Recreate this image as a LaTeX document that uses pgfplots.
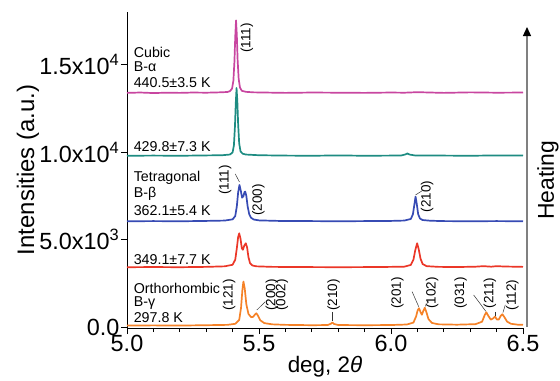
\documentclass[border=0pt]{standalone}
\usepackage{pgfplots}
\pgfplotsset{compat=1.18}
\usepackage{fontspec}
\setmainfont{Liberation Sans}
\usetikzlibrary{arrows.meta}
\definecolor{cmag}{RGB}{200,70,160}
\definecolor{cteal}{RGB}{30,140,130}
\definecolor{cblue}{RGB}{55,75,180}
\definecolor{cred}{RGB}{235,55,40}
\definecolor{corg}{RGB}{245,130,40}
\begin{document}
\begin{tikzpicture}
\begin{axis}[
  scale only axis, width=396bp, height=316bp,
  xmin=5, xmax=6.5, ymin=-60, ymax=18030,
  axis x line=bottom, axis y line=left, axis line style={-, line width=0.9bp},
  clip=false, scaled y ticks=false, scaled x ticks=false,
  tick align=outside, major tick length=6bp, minor tick length=4bp,
  tick style={black, line width=0.9bp},
  xtick={5,5.5,6,6.5}, xticklabels={5.0,5.5,6.0,6.5},
  minor x tick num=4,
  ytick={0,5000,10000,15000},
  yticklabels={0.0,5.0x10\textsuperscript{3},1.0x10\textsuperscript{4},1.5x10\textsuperscript{4}},
  ticklabel style={font=\fontsize{23.5}{25}\selectfont},
  xticklabel style={inner sep=1bp},
  yticklabel style={inner sep=1.5bp},
  xlabel={deg, 2\textit{θ}},
  ylabel={Intensities (a.u.)},
  xlabel style={font=\fontsize{22.5}{25}\selectfont, at={(axis description cs:0.5,-0.123)}, anchor=center},
  ylabel style={font=\fontsize{24}{26}\selectfont, at={(axis description cs:-0.25,0.5)}, anchor=center},
  every axis plot/.append style={line width=1.7bp, line join=round},
]
\coordinate (O) at (rel axis cs:0,0);
% magenta 440.5 K
\addplot[cmag] coordinates {(5.00,13400) (5.05,13420) (5.10,13390) (5.15,13410) (5.20,13400) (5.25,13420) (5.30,13410) (5.35,13430) (5.38,13450) (5.39,13500) (5.398,13650) (5.403,14100) (5.407,15200) (5.410,16600) (5.413,17550) (5.416,16700) (5.419,15300) (5.423,14200) (5.428,13700) (5.435,13520) (5.45,13460) (5.48,13430) (5.52,13420) (5.60,13400) (5.70,13420) (5.80,13410) (5.90,13400) (6.00,13420) (6.05,13410) (6.10,13440) (6.15,13420) (6.20,13400) (6.30,13430) (6.40,13410) (6.50,13420)};
% teal 429.8 K
\addplot[cteal] coordinates {(5.00,9800) (5.10,9810) (5.20,9800) (5.30,9820) (5.36,9830) (5.39,9870) (5.400,9990) (5.405,10400) (5.409,11500) (5.412,12800) (5.415,13680) (5.418,12900) (5.421,11600) (5.425,10500) (5.430,10050) (5.438,9920) (5.45,9870) (5.50,9830) (5.60,9810) (5.70,9800) (5.80,9820) (5.90,9800) (6.00,9810) (6.04,9820) (6.055,9880) (6.062,9930) (6.07,9870) (6.09,9820) (6.20,9810) (6.30,9800) (6.40,9820) (6.50,9810)};
% blue 362.1 K
\addplot[cblue] coordinates {(5.00,6050) (5.10,6060) (5.20,6050) (5.30,6070) (5.37,6090) (5.40,6160) (5.410,6350) (5.416,6900) (5.421,7700) (5.426,8130) (5.431,7800) (5.436,7400) (5.441,7480) (5.445,7720) (5.448,7750) (5.452,7500) (5.457,6900) (5.463,6450) (5.47,6250) (5.48,6150) (5.50,6100) (5.55,6080) (5.60,6060) (5.70,6060) (5.80,6050) (5.90,6060) (6.00,6070) (6.05,6090) (6.075,6180) (6.083,6450) (6.088,6950) (6.093,7460) (6.098,7000) (6.103,6450) (6.110,6200) (6.12,6120) (6.15,6080) (6.20,6060) (6.30,6050) (6.40,6060) (6.50,6050)};
% red 349.1 K
\addplot[cred] coordinates {(5.00,3420) (5.10,3430) (5.20,3420) (5.30,3440) (5.37,3470) (5.40,3560) (5.410,3850) (5.416,4500) (5.421,5150) (5.425,5360) (5.430,5050) (5.435,4500) (5.439,4420) (5.444,4650) (5.450,4790) (5.455,4550) (5.460,4000) (5.466,3650) (5.475,3520) (5.49,3470) (5.55,3440) (5.65,3430) (5.80,3420) (5.95,3430) (6.05,3450) (6.075,3550) (6.085,3850) (6.092,4400) (6.099,4790) (6.105,4450) (6.112,3900) (6.12,3600) (6.135,3480) (6.18,3440) (6.25,3430) (6.32,3450) (6.35,3480) (6.38,3450) (6.40,3480) (6.43,3460) (6.50,3440)};
% orange 297.8 K
\addplot[corg] coordinates {(5.00,80) (5.10,90) (5.20,80) (5.30,100) (5.38,120) (5.41,180) (5.425,400) (5.432,1100) (5.437,2100) (5.441,2600) (5.446,2200) (5.452,1300) (5.460,750) (5.470,560) (5.478,580) (5.485,720) (5.490,780) (5.496,650) (5.505,380) (5.52,220) (5.55,150) (5.60,120) (5.70,100) (5.76,110) (5.772,180) (5.778,260) (5.784,170) (5.80,110) (5.90,100) (6.00,110) (6.06,140) (6.085,250) (6.095,600) (6.101,950) (6.106,1070) (6.112,850) (6.117,700) (6.122,900) (6.128,1100) (6.134,850) (6.142,450) (6.155,230) (6.18,150) (6.25,130) (6.32,160) (6.345,300) (6.355,680) (6.361,840) (6.368,650) (6.378,420) (6.386,480) (6.394,590) (6.401,430) (6.408,420) (6.415,620) (6.422,725) (6.430,550) (6.44,300) (6.455,180) (6.48,130) (6.50,120)};
% sample labels
\begin{scope}[every node/.style={font=\fontsize{14.3}{16}\selectfont, anchor=west, inner sep=0pt}]
\node at (axis cs:5.025,15744) {Cubic};
\node at (axis cs:5.025,14885) {B-α};
\node at (axis cs:5.025,13969) {440.5±3.5 K};
\node at (axis cs:5.025,10305) {429.8±7.3 K};
\node at (axis cs:5.025,8530) {Tetragonal};
\node at (axis cs:5.025,7614) {B-β};
\node at (axis cs:5.025,6641) {362.1±5.4 K};
\node at (axis cs:5.025,3836) {349.1±7.7 K};
\node at (axis cs:5.025,2233) {Orthorhombic};
\node at (axis cs:5.025,1374) {B-γ};
\node at (axis cs:5.025,515) {297.8 K};
\end{scope}
% peak labels
\begin{scope}[every node/.style={font=\fontsize{13.5}{15}\selectfont, rotate=90, anchor=center, inner sep=0pt}]
\node at (axis cs:5.454,16545) {(111)};
\node at (axis cs:5.372,8416) {(111)};
\node at (axis cs:5.498,7271) {(200)};
\node at (axis cs:6.137,7460) {(210)};
\node at (axis cs:5.387,1832) {(121)};
\node at (axis cs:5.549,1832) {(200)};
\node at (axis cs:5.587,1832) {(002)};
\node at (axis cs:5.783,1832) {(210)};
\node at (axis cs:6.024,1946) {(201)};
\node at (axis cs:6.156,1946) {(102)};
\node at (axis cs:6.264,1946) {(031)};
\node at (axis cs:6.375,1946) {(211)};
\node at (axis cs:6.460,1832) {(112)};
\end{scope}
% leaders
\begin{scope}[black!80, line width=0.5bp]
\draw (axis cs:5.410,8760) -- (axis cs:5.426,8300);
\draw (axis cs:6.093,7557) -- (axis cs:6.123,7843);
\draw (axis cs:5.492,973) -- (axis cs:5.524,1450);
\draw (axis cs:5.778,860) -- (axis cs:5.778,330);
\draw (axis cs:6.080,2020) -- (axis cs:6.105,1160);
\draw (axis cs:6.130,1180) -- (axis cs:6.142,1500);
\draw (axis cs:6.313,1832) -- (axis cs:6.359,900);
\draw (axis cs:6.393,860) -- (axis cs:6.393,620);
\draw (axis cs:6.424,820) -- (axis cs:6.433,1260);
\end{scope}
% heating arrow
\draw[gray, line width=1.2bp, -{Triangle[length=9bp,width=8bp,black]}] (rel axis cs:1.0101,0.003) -- (rel axis cs:1.0101,0.9525);
\node[rotate=90, anchor=center, font=\fontsize{23}{25}\selectfont] at (rel axis cs:1.063,0.468) {Heating};
\end{axis}
\pgfresetboundingbox
\path (O) ++(-127bp,-53bp) rectangle ++(560bp,381bp);
\end{tikzpicture}
\end{document}
